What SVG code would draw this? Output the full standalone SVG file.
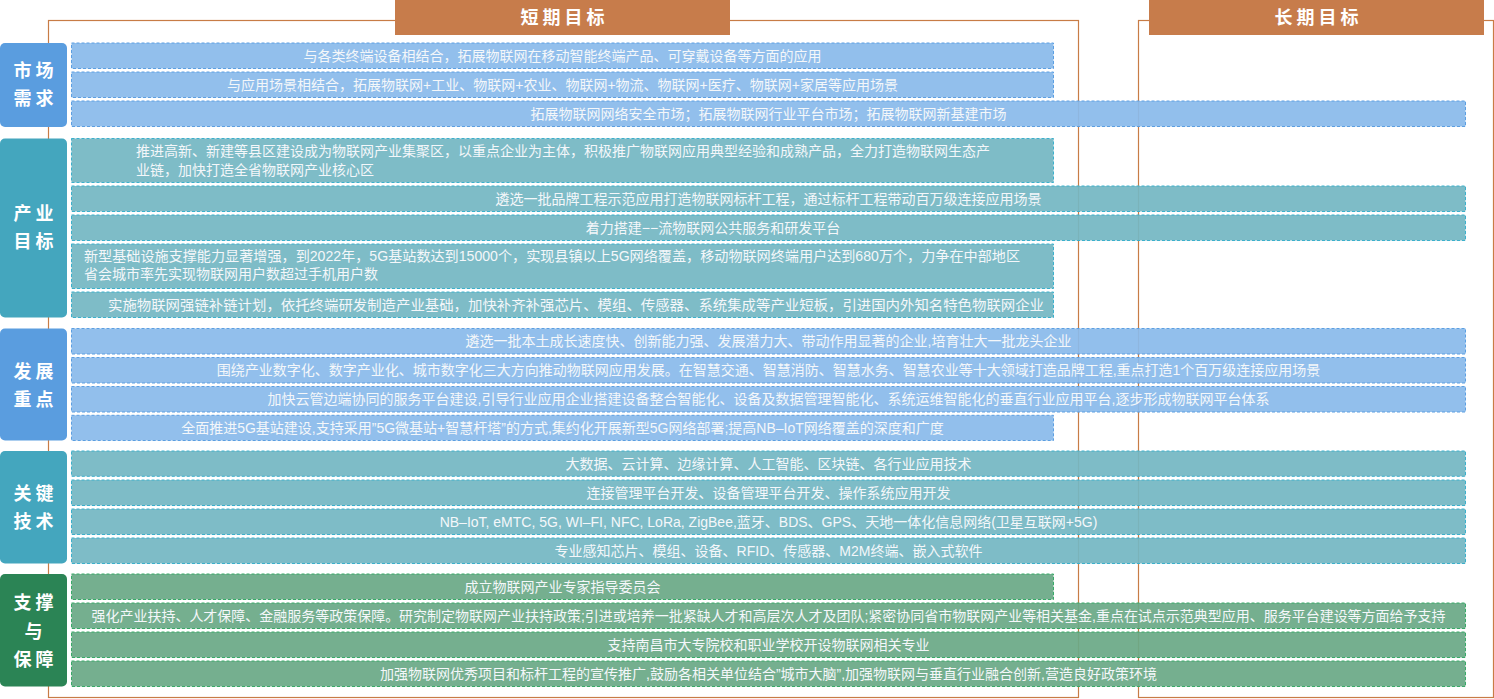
<svg xmlns="http://www.w3.org/2000/svg" width="1494" height="699" viewBox="0 0 1494 699">
<style>
.frame{fill:none;stroke:#c87c46;stroke-width:1.2}
.hdr{fill:#c77c4b}
.htx{font-family:"Liberation Sans","Noto Sans CJK SC",sans-serif;font-size:18px;font-weight:bold;fill:#ffffff;letter-spacing:4px;text-anchor:middle}
.lbtx{font-family:"Liberation Sans","Noto Sans CJK SC",sans-serif;font-size:18px;font-weight:bold;fill:#ffffff;letter-spacing:4px;text-anchor:middle}
.lb-b{fill:#5a9ddf}
.lb-t{fill:#44a6be}
.lb-g{fill:#2b8455}
.bar-b{fill:#8abaeb;fill-opacity:0.93;stroke:#5c9fe2;stroke-width:1;stroke-dasharray:3 2}
.bar-t{fill:#74b7c3;fill-opacity:0.93;stroke:#3cb0cc;stroke-width:1;stroke-dasharray:3 2}
.bar-g{fill:#6aa986;fill-opacity:0.93;stroke:#38aa68;stroke-width:1;stroke-dasharray:3 2}
.tx{font-family:"Liberation Sans","Noto Sans CJK SC",sans-serif;font-size:14px;fill:#f4f7fa;text-anchor:middle}
.txl{font-family:"Liberation Sans","Noto Sans CJK SC",sans-serif;font-size:14px;fill:#f4f7fa;text-anchor:start}
</style>

<g id="frames">
<rect class="frame" x="48.5" y="20.5" width="1030" height="677"/>
<rect class="frame" x="1138.5" y="20.5" width="355" height="677"/>
</g>

<g id="header-short">
<rect class="hdr" x="395" y="0" width="335" height="35"/>
<text class="htx" x="564.5" y="24">短期目标</text>
</g>
<g id="header-long">
<rect class="hdr" x="1149" y="0" width="335" height="35"/>
<text class="htx" x="1318.5" y="24">长期目标</text>
</g>

<g id="label-market">
<rect class="lb-b" x="0" y="43" width="67" height="84" rx="5"/>
<text class="lbtx" x="35.5" y="76.5">市场</text>
<text class="lbtx" x="35.5" y="104.5">需求</text>
</g>
<g id="label-industry">
<rect class="lb-t" x="0" y="138.5" width="67" height="179" rx="5"/>
<text class="lbtx" x="35.5" y="220">产业</text>
<text class="lbtx" x="35.5" y="248">目标</text>
</g>
<g id="label-develop">
<rect class="lb-b" x="0" y="328.5" width="67" height="112" rx="5"/>
<text class="lbtx" x="35.5" y="378">发展</text>
<text class="lbtx" x="35.5" y="406">重点</text>
</g>
<g id="label-tech">
<rect class="lb-t" x="0" y="451" width="67" height="112.5" rx="5"/>
<text class="lbtx" x="35.5" y="500">关键</text>
<text class="lbtx" x="35.5" y="528">技术</text>
</g>
<g id="label-support">
<rect class="lb-g" x="0" y="574" width="67" height="112.5" rx="5"/>
<text class="lbtx" x="35.5" y="609">支撑</text>
<text class="lbtx" x="35.5" y="638">与</text>
<text class="lbtx" x="35.5" y="666">保障</text>
</g>

<g id="market-1"><rect class="bar-b" x="71.5" y="43" width="982" height="25.5"/><text class="tx" x="562.5" y="60.5">与各类终端设备相结合，拓展物联网在移动智能终端产品、可穿戴设备等方面的应用</text></g>
<g id="market-2"><rect class="bar-b" x="71.5" y="72" width="982" height="25.5"/><text class="tx" x="562.5" y="89.5">与应用场景相结合，拓展物联网+工业、物联网+农业、物联网+物流、物联网+医疗、物联网+家居等应用场景</text></g>
<g id="market-3"><rect class="bar-b" x="71.5" y="101" width="1394" height="25.5"/><text class="tx" x="768.5" y="118.5">拓展物联网网络安全市场；拓展物联网行业平台市场；拓展物联网新基建市场</text></g>

<g id="industry-1"><rect class="bar-t" x="71.5" y="138.5" width="982" height="44"/>
<text class="txl" x="136" y="156" textLength="854" lengthAdjust="spacingAndGlyphs">推进高新、新建等县区建设成为物联网产业集聚区，以重点企业为主体，积极推广物联网应用典型经验和成熟产品，全力打造物联网生态产</text>
<text class="txl" x="136" y="175">业链，加快打造全省物联网产业核心区</text></g>
<g id="industry-2"><rect class="bar-t" x="71.5" y="186" width="1394" height="25.5"/><text class="tx" x="768.5" y="203.5">遴选一批品牌工程示范应用打造物联网标杆工程，通过标杆工程带动百万级连接应用场景</text></g>
<g id="industry-3"><rect class="bar-t" x="71.5" y="215" width="1394" height="25.5"/><text class="tx" x="713" y="232.5">着力搭建−−流物联网公共服务和研发平台</text></g>
<g id="industry-4"><rect class="bar-t" x="71.5" y="244" width="982" height="44.5"/>
<text class="txl" x="84" y="260.5" textLength="936" lengthAdjust="spacingAndGlyphs">新型基础设施支撑能力显著增强，到2022年，5G基站数达到15000个，实现县镇以上5G网络覆盖，移动物联网终端用户达到680万个，力争在中部地区</text>
<text class="txl" x="84" y="279">省会城市率先实现物联网用户数超过手机用户数</text></g>
<g id="industry-5"><rect class="bar-t" x="71.5" y="292" width="982" height="25.5"/><text class="tx" x="576" y="309.5" textLength="936" lengthAdjust="spacingAndGlyphs">实施物联网强链补链计划，依托终端研发制造产业基础，加快补齐补强芯片、模组、传感器、系统集成等产业短板，引进国内外知名特色物联网企业</text></g>

<g id="develop-1"><rect class="bar-b" x="71.5" y="328.5" width="1394" height="25.5"/><text class="tx" x="768.5" y="346">遴选一批本土成长速度快、创新能力强、发展潜力大、带动作用显著的企业,培育壮大一批龙头企业</text></g>
<g id="develop-2"><rect class="bar-b" x="71.5" y="357.5" width="1394" height="25.5"/><text class="tx" x="768.5" y="375">围绕产业数字化、数字产业化、城市数字化三大方向推动物联网应用发展。在智慧交通、智慧消防、智慧水务、智慧农业等十大领域打造品牌工程,重点打造1个百万级连接应用场景</text></g>
<g id="develop-3"><rect class="bar-b" x="71.5" y="386.5" width="1394" height="25.5"/><text class="tx" x="768.5" y="404">加快云管边端协同的服务平台建设,引导行业应用企业搭建设备整合智能化、设备及数据管理智能化、系统运维智能化的垂直行业应用平台,逐步形成物联网平台体系</text></g>
<g id="develop-4"><rect class="bar-b" x="71.5" y="415.3" width="982" height="25.2"/><text class="tx" x="562.5" y="432.8">全面推进5G基站建设,支持采用”5G微基站+智慧杆塔”的方式,集约化开展新型5G网络部署;提高NB–IoT网络覆盖的深度和广度</text></g>

<g id="tech-1"><rect class="bar-t" x="71.5" y="451" width="1394" height="25.3"/><text class="tx" x="768.5" y="468.5">大数据、云计算、边缘计算、人工智能、区块链、各行业应用技术</text></g>
<g id="tech-2"><rect class="bar-t" x="71.5" y="480" width="1394" height="25.5"/><text class="tx" x="768.5" y="497.5">连接管理平台开发、设备管理平台开发、操作系统应用开发</text></g>
<g id="tech-3"><rect class="bar-t" x="71.5" y="509" width="1394" height="25.5"/><text class="tx" x="768.5" y="526.5">NB–IoT, eMTC, 5G, WI–FI, NFC, LoRa, ZigBee,蓝牙、BDS、GPS、天地一体化信息网络(卫星互联网+5G)</text></g>
<g id="tech-4"><rect class="bar-t" x="71.5" y="538" width="1394" height="25.5"/><text class="tx" x="768.5" y="555.5">专业感知芯片、模组、设备、RFID、传感器、M2M终端、嵌入式软件</text></g>

<g id="support-1"><rect class="bar-g" x="71.5" y="574" width="982" height="25.5"/><text class="tx" x="562.5" y="591.5">成立物联网产业专家指导委员会</text></g>
<g id="support-2"><rect class="bar-g" x="71.5" y="603" width="1394" height="25.5"/><text class="tx" x="768.5" y="620.5" textLength="1354" lengthAdjust="spacingAndGlyphs">强化产业扶持、人才保障、金融服务等政策保障。研究制定物联网产业扶持政策;引进或培养一批紧缺人才和高层次人才及团队;紧密协同省市物联网产业等相关基金,重点在试点示范典型应用、服务平台建设等方面给予支持</text></g>
<g id="support-3"><rect class="bar-g" x="71.5" y="632" width="1394" height="25.5"/><text class="tx" x="768.5" y="649.5">支持南昌市大专院校和职业学校开设物联网相关专业</text></g>
<g id="support-4"><rect class="bar-g" x="71.5" y="661" width="1394" height="25.5"/><text class="tx" x="768.5" y="678.5">加强物联网优秀项目和标杆工程的宣传推广,鼓励各相关单位结合”城市大脑”,加强物联网与垂直行业融合创新,营造良好政策环境</text></g>
</svg>
